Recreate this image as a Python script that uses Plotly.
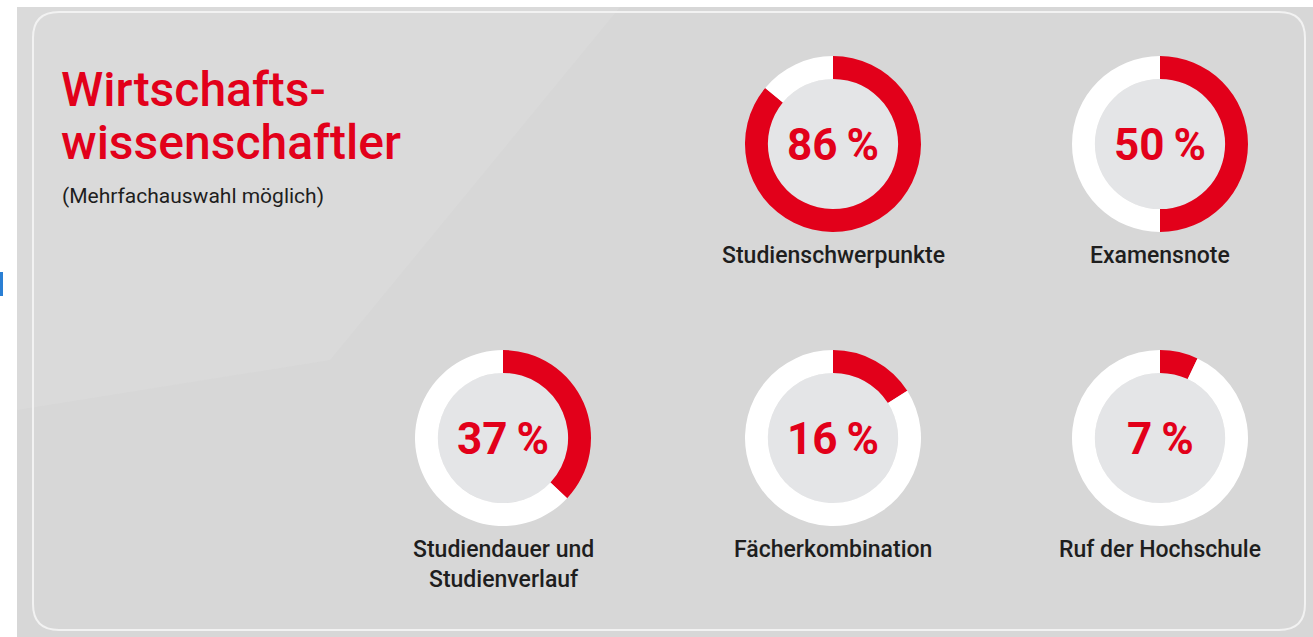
import plotly.graph_objects as go

W, H = 1313, 637

categories = ["Studienschwerpunkte", "Examensnote", "Studiendauer und<br>Studienverlauf",
              "Fächerkombination", "Ruf der Hochschule"]
values = [86, 50, 37, 16, 7]
value_labels = ["86\u2009%", "50\u2009%", "37\u2009%", "16\u2009%", "7\u2009%"]

title_lines = ["Wirtschafts-", "wissenschaftler"]
subtitle_text = "(Mehrfachauswahl möglich)"

# donut centres in pixels (x, y from top) and outer radius
centres = [(833, 144), (1160, 144), (503, 438), (833, 438), (1160, 438)]
R = 88
HOLE = 0.74

RED = "#e2001a"
BG = "#d7d7d7"
HOLE_FILL = "#e4e5e7"
TEXT = "#1e1e1e"
FONT = "Roboto, sans-serif"


def fx(x):
    return x / W


def fy(y):
    return 1 - y / H


fig = go.Figure()
shapes = []
annotations = []

# grey panel background
shapes.append(dict(type="rect", xref="x", yref="y", x0=17, x1=W, y0=7, y1=H,
                   fillcolor=BG, line_width=0, layer="below"))
# faint lighter area top left
shapes.append(dict(type="path", xref="x", yref="y",
                   path="M 17,7 L 620,7 L 330,360 L 17,410 Z",
                   fillcolor="#dadada", line_width=0, layer="below"))
# rounded white border
x0, y0, x1, y1, r = 33, 12, 1305, 630, 26
path = (f"M {x0 + r},{y0} L {x1 - r},{y0} Q {x1},{y0} {x1},{y0 + r} L {x1},{y1 - r} "
        f"Q {x1},{y1} {x1 - r},{y1} L {x0 + r},{y1} Q {x0},{y1} {x0},{y1 - r} "
        f"L {x0},{y0 + r} Q {x0},{y0} {x0 + r},{y0} Z")
shapes.append(dict(type="path", xref="x", yref="y", path=path,
                   line=dict(color="#f2f2f2", width=2), fillcolor="rgba(0,0,0,0)", layer="below"))
# small blue mark at left edge
shapes.append(dict(type="rect", xref="x", yref="y", x0=0, x1=3, y0=272, y1=296,
                   fillcolor="#2a7fd4", line_width=0, layer="below"))

for cat, val, lab, (cx, cy) in zip(categories, values, value_labels, centres):
    fig.add_trace(go.Pie(
        values=[val, 100 - val],
        marker=dict(colors=[RED, "#ffffff"], line=dict(width=0)),
        hole=HOLE, sort=False, direction="clockwise", rotation=0,
        textinfo="none", hoverinfo="skip", showlegend=False,
        domain=dict(x=[fx(cx - R), fx(cx + R)], y=[fy(cy + R), fy(cy - R)]),
    ))
    ri = R * HOLE
    shapes.append(dict(type="circle", xref="x", yref="y", x0=cx - ri, x1=cx + ri, y0=cy - ri, y1=cy + ri,
                       fillcolor=HOLE_FILL, line_width=0, layer="below"))
    annotations.append(dict(x=cx, y=cy + 1, xref="x", yref="y", text=f"<b>{lab}</b>", showarrow=False,
                            font=dict(family=FONT, size=44, color=RED)))
    annotations.append(dict(x=cx, y=cy + R + 8, xref="x", yref="y", text=cat, showarrow=False,
                            yanchor="top", font=dict(family=FONT, size=23, color=TEXT, weight=500)))

annotations.append(dict(x=59, y=89, xref="x", yref="y", text=title_lines[0], showarrow=False,
                        xanchor="left", yanchor="middle",
                        font=dict(family=FONT, size=48, color=RED, weight=500)))
annotations.append(dict(x=59, y=142, xref="x", yref="y", text=title_lines[1], showarrow=False,
                        xanchor="left", yanchor="middle",
                        font=dict(family=FONT, size=48, color=RED, weight=500)))
annotations.append(dict(x=60, y=196, xref="x", yref="y", text=subtitle_text, showarrow=False,
                        xanchor="left", yanchor="middle",
                        font=dict(family=FONT, size=21, color=TEXT)))

fig.update_layout(
    width=W, height=H, margin=dict(l=0, r=0, t=0, b=0),
    paper_bgcolor="#ffffff", plot_bgcolor="rgba(0,0,0,0)",
    xaxis=dict(range=[0, W], visible=False, fixedrange=True),
    yaxis=dict(range=[H, 0], visible=False, fixedrange=True),
    shapes=shapes, annotations=annotations,
)

fig.write_html("out.html", config={"displayModeBar": False},
               post_script="document.body.style.margin = '0';")
